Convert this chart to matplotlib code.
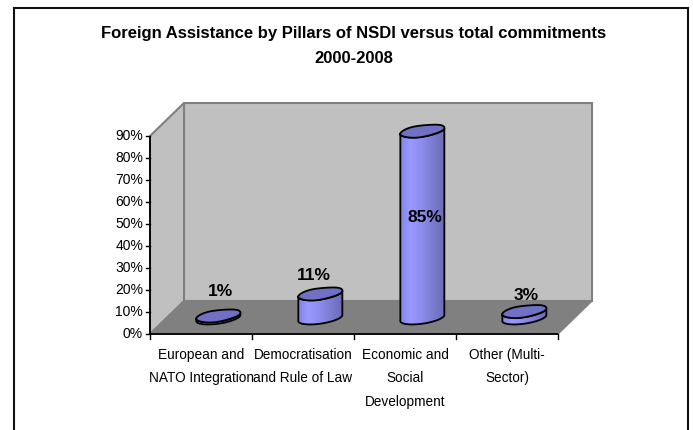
import numpy as np
import matplotlib
matplotlib.use('Agg')
import matplotlib.pyplot as plt
from matplotlib.patches import Polygon
from matplotlib.colors import LinearSegmentedColormap

categories = ['European and\nNATO Integration', 'Democratisation\nand Rule of Law',
              'Economic and\nSocial\nDevelopment', 'Other (Multi-\nSector)']
values = [1, 11, 85, 3]
value_labels = ['1%', '11%', '85%', '3%']
y_ticks = [0, 10, 20, 30, 40, 50, 60, 70, 80, 90]
title = 'Foreign Assistance by Pillars of NSDI versus total commitments\n2000-2008'

W, H = 693, 430
X0, Y0 = 150, 334      # pixel of the front-left origin
PXC, PXV = 102.0, 2.2  # pixels per category, per percent
DX, DV = 1/3, 15.0     # depth offset in data units

plt.rcParams['font.family'] = ['Liberation Sans', 'DejaVu Sans']
fig = plt.figure(figsize=(W/100, H/100), dpi=100, facecolor='white')
ax = fig.add_axes([0, 0, 1, 1])
ax.set_xlim(-X0/PXC, (W-X0)/PXC)
ax.set_ylim(-(H-Y0)/PXV, Y0/PXV)
ax.axis('off')

def px(x, y):
    return ((x-X0)/PXC, (Y0-y)/PXV)

# outer border: open at the bottom of the picture
bx, by = zip(px(14, 432), px(14, 8), px(688, 8), px(688, 432))
ax.plot(bx, by, color='#111111', lw=1.5, solid_joinstyle='miter')

n = len(categories)
top = y_ticks[-1]
wall = '#C0C0C0'; grey = '#808080'
ax.add_patch(Polygon([(DX, DV), (n+DX, DV), (n+DX, top+DV), (DX, top+DV)], fc=wall, ec=grey, lw=1.5))
ax.add_patch(Polygon([(0, 0), (DX, DV), (DX, top+DV), (0, top)], fc=wall, ec=grey, lw=1.5))
ax.add_patch(Polygon([(0, 0), (n, 0), (n+DX, DV), (DX, DV)], fc=grey, ec=grey, lw=1))

# axes lines and ticks
ax.plot([0, 0], [0, top], color='black', lw=1.3, solid_capstyle='butt')
ax.plot([0, n], [0, 0], color='black', lw=1.3, solid_capstyle='butt')
tx = 4/PXC
for v in y_ticks:
    ax.plot([-tx, 0], [v, v], color='black', lw=1)
    ax.text(-tx-3/PXC, v, f'{v}%', ha='right', va='center', fontsize=10, color='black')
for i in range(n+1):
    ax.plot([i, i], [0, -5/PXV], color='black', lw=1)
for i, c in enumerate(categories):
    ax.text(i+0.5, -(348-Y0)/PXV, c, ha='center', va='top', fontsize=9.8, linespacing=1.85)

cmap = LinearSegmentedColormap.from_list('c', ['#8080E0', '#9999FF', '#8C8CEC', '#7A7AD0', '#6A6AB4'])
grad = np.linspace(0, 1, 64).reshape(1, -1)
rx = 22/PXC; ry = 6.0/PXV
tilt_x = 2/PXC; tilt_y = 2.5/PXV
t = np.linspace(0, 2*np.pi, 121)
lump = 1 + 0.06*np.sin(3*t+0.6)

def ell(cx, cy, tt, lp):
    return (cx + rx*np.cos(tt) + tilt_x*np.sin(tt)*lp,
            cy + (ry*np.sin(tt))*lp + tilt_y*np.cos(tt))

for i, v in enumerate(values):
    cx = i + 0.5 + 0.17
    cy = DV/2 - 0.2
    tb = np.linspace(np.pi, 2*np.pi, 60)
    xb, yb = ell(cx, cy, tb, 1)
    xt, yt = ell(cx, cy+v, tb[::-1], 1)
    sx = np.r_[xb, xt]; sy = np.r_[yb, yt]
    side = Polygon(np.c_[sx, sy], fc='none', ec='black', lw=1.3, zorder=4, joinstyle='round')
    im = ax.imshow(grad, extent=(cx-rx-tilt_x, cx+rx+tilt_x, cy-10, cy+v+10), aspect='auto', cmap=cmap, zorder=3)
    ax.add_patch(side)
    im.set_clip_path(Polygon(np.c_[sx, sy], transform=ax.transData))
    xe, ye = ell(cx, cy+v, t, lump)
    ax.add_patch(Polygon(np.c_[xe, ye], fc='#7070C4', ec='black', lw=1.3, zorder=5))

ax.set_xlim(-X0/PXC, (W-X0)/PXC)
ax.set_ylim(-(H-Y0)/PXV, Y0/PXV)

label_px = [(220, 292), (314, 275), (425, 217), (526, 295)]
for s, (x, y) in zip(value_labels, label_px):
    ax.text(*px(x, y), s, ha='center', va='center', fontsize=12.5, fontweight='bold', zorder=6)

ax.text(*px(353.5, 46), title, ha='center', va='center', fontsize=12, fontweight='bold', linespacing=1.85)

fig.savefig('out.png', dpi=100, facecolor='white')
